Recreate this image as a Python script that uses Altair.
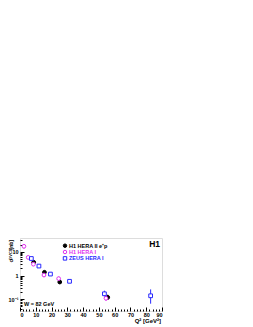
import altair as alt
import pandas as pd

# ---- data ----
series_names = ["H1 HERA II e⁺p", "H1 HERA I", "ZEUS HERA I"]
series_colors = ["#000000", "#e030f0", "#2828ff"]
series_fills = ["#000000", "#ffffff", "#ffffff"]
series_shapes = ["circle", "circle", "square"]

h1ii_q2 = [8.7, 15.5, 25.2, 55.6]
h1ii_sig = [3.6, 1.37, 0.53, 0.12]
h1ii_lo = [3.1, 1.15, 0.45, 0.095]
h1ii_hi = [4.1, 1.6, 0.62, 0.155]

h1i_q2 = [2.5, 5.2, 8.5, 15.2, 24.5, 54.5]
h1i_sig = [17.0, 5.8, 3.0, 1.05, 0.74, 0.11]
h1i_lo = [13.5, 4.9, 2.5, 0.85, 0.6, 0.085]
h1i_hi = [21.0, 6.8, 3.6, 1.3, 0.9, 0.14]

zeus_q2 = [7.2, 12.0, 19.3, 31.4, 53.5, 82.8]
zeus_sig = [5.2, 2.5, 1.15, 0.57, 0.17, 0.14]
zeus_lo = [4.5, 2.2, 1.0, 0.5, 0.13, 0.065]
zeus_hi = [6.0, 2.85, 1.3, 0.65, 0.23, 0.26]

x_major = [0, 10, 20, 30, 40, 50, 60, 70, 80, 90]
x_minor = [v for v in range(0, 91, 2)]
y_major = [0.1, 1, 10]
y_minor = [0.04, 0.05, 0.06, 0.07, 0.08, 0.09, 0.1,
           0.2, 0.3, 0.4, 0.5, 0.6, 0.7, 0.8, 0.9, 1,
           2, 3, 4, 5, 6, 7, 8, 9, 10, 20, 30]

rows = []
for name, q, s, lo, hi in [
    (series_names[0], h1ii_q2, h1ii_sig, h1ii_lo, h1ii_hi),
    (series_names[1], h1i_q2, h1i_sig, h1i_lo, h1i_hi),
    (series_names[2], zeus_q2, zeus_sig, zeus_lo, zeus_hi),
]:
    for a, b, c, d in zip(q, s, lo, hi):
        rows.append({"series": name, "q2": a, "sig": b, "lo": c, "hi": d})
df = pd.DataFrame(rows)

W, H = 142, 73
FONT = "Liberation Sans"

x_scale = alt.Scale(domain=[0, 90], nice=False, zero=False)
y_scale = alt.Scale(type="log", domain=[0.032, 38], nice=False)

base = alt.Chart(df)

errbars = base.mark_rule(strokeWidth=1).encode(
    x=alt.X("q2:Q", scale=x_scale, axis=None),
    y=alt.Y("lo:Q", scale=y_scale, axis=None),
    y2="hi:Q",
    color=alt.Color("series:N", scale=alt.Scale(domain=series_names, range=series_colors), legend=None),
)

points = base.mark_point(size=14, strokeWidth=1, opacity=1).encode(
    x=alt.X("q2:Q", scale=x_scale,
            axis=alt.Axis(title=None, values=x_major, format="d", ticks=False, domain=False,
                          grid=False, labelFont=FONT, labelFontSize=5.5, labelFontWeight="bold",
                          labelPadding=1, labelColor="black")),
    y=alt.Y("sig:Q", scale=y_scale,
            axis=alt.Axis(title=None, values=y_major, ticks=False, domain=False, grid=False,
                          labelExpr="datum.value >= 9 ? '10' : datum.value >= 0.9 ? '1' : '10⁻¹'",
                          labelFont=FONT, labelFontSize=5.5, labelFontWeight="bold",
                          labelPadding=2, labelColor="black")),
    stroke=alt.Stroke("series:N", scale=alt.Scale(domain=series_names, range=series_colors), legend=None),
    fill=alt.Fill("series:N", scale=alt.Scale(domain=series_names, range=series_fills), legend=None),
    shape=alt.Shape("series:N", scale=alt.Scale(domain=series_names, range=series_shapes), legend=None),
)

# inward ticks (drawn by axes placed on the opposite sides and pulled in)
tick_layer = base.mark_point(opacity=0).encode(
    x=alt.X("q2:Q", scale=x_scale,
            axis=alt.Axis(orient="top", offset=-H, title=None, values=x_minor, labels=False,
                          domain=False, grid=False, tickColor="black", tickWidth=1,
                          tickSize={"condition": {"test": "datum.value % 10 == 0", "value": 4},
                                    "value": 2})),
    y=alt.Y("sig:Q", scale=y_scale,
            axis=alt.Axis(orient="right", offset=-W, title=None, values=y_minor, labels=False,
                          domain=False, grid=False, tickColor="black", tickWidth=1,
                          tickSize={"condition": {"test": "abs(log(datum.value)/LN10 - round(log(datum.value)/LN10)) < 0.01", "value": 4},
                                    "value": 2})),
)

def txt(text, x, y, size, weight="bold", align="left", angle=0, baseline="middle", color="black"):
    return alt.Chart(pd.DataFrame({"t": [text]})).mark_text(
        font=FONT, fontSize=size, fontWeight=weight, align=align, baseline=baseline,
        angle=angle, color=color,
    ).encode(text="t:N", x=alt.value(x), y=alt.value(y))

# legend built from the series lists
legend_layers = []
legend_rows_y = [7.7, 14.0, 20.4]
for i, name in enumerate(series_names):
    legend_layers.append(
        alt.Chart(pd.DataFrame({"t": [name]})).mark_point(
            shape=series_shapes[i], size=12, strokeWidth=1, opacity=1,
            stroke=series_colors[i], fill=series_fills[i],
        ).encode(x=alt.value(45), y=alt.value(legend_rows_y[i]))
    )
    legend_layers.append(txt(name, 49, legend_rows_y[i], 5.5, color=series_colors[i]))

annotations = [
    txt("H1", 140, 6, 8.5, align="right"),
    txt("W = 82 GeV", 4, 66, 5.5),
    txt("[nb]", -9.5, 2, 5, align="right", angle=270),
    txt("DVCS", -8.7, 10.5, 4, align="right", angle=270),
    txt("σ", -9.5, 20.5, 6, align="right", angle=270),
    txt("Q² [GeV²]", 141, 83, 6, align="right"),
]

chart = alt.layer(errbars, points, tick_layer, *legend_layers, *annotations).resolve_axis(
    x="independent", y="independent"
).properties(
    width=W, height=H,
    autosize=alt.AutoSizeParams(type="none"),
    padding={"left": 12, "top": 230, "right": 80, "bottom": 18},
).configure_view(stroke="black", strokeWidth=1).configure(background="white")

chart.save("out.html", embed_options={"renderer": "svg", "actions": False})
